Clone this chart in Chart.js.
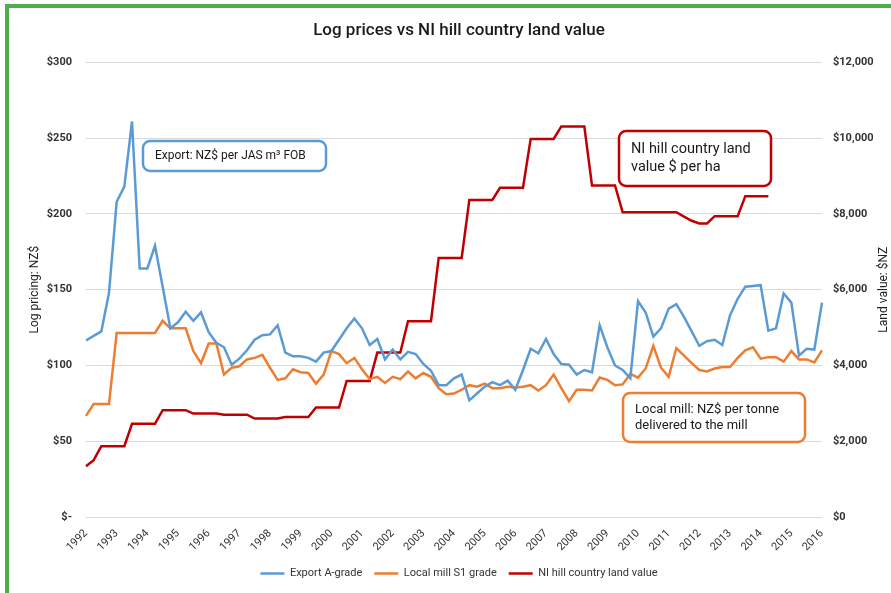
<!DOCTYPE html>
<html>
<head>
<meta charset="utf-8">
<title>Log prices vs NI hill country land value</title>
<script src="https://cdn.jsdelivr.net/npm/chart.js@4.4.1/dist/chart.umd.min.js"></script>
<style>
  body { margin: 0; background: #fff; }
  canvas { display: block; }
</style>
</head>
<body>
<canvas id="myChart" width="891" height="593"></canvas>
<script>
// quarterly series, 1992 Q1 .. 2016 Q1
const YEARS = [1992, 1993, 1994, 1995, 1996, 1997, 1998, 1999, 2000, 2001, 2002, 2003,
  2004, 2005, 2006, 2007, 2008, 2009, 2010, 2011, 2012, 2013, 2014, 2015, 2016];

const exportAGrade = [
  116.5, 119.5, 122.5, 148, 208, 218, 261, 164, 164, 179, 152, 124.5,
  128.5, 135.5, 129.5, 135, 122, 115, 112, 100.5, 104.5, 110, 117, 120,
  120.5, 126.5, 108.5, 106, 106, 105, 102.5, 108.5, 109.5, 117, 124.5, 131,
  124.5, 113.5, 117.5, 104, 110.5, 104, 109, 107.5, 101, 96.5, 87, 87,
  91.5, 94, 77, 81.5, 86, 89, 87, 90, 84, 97, 111, 108,
  117.5, 107.5, 101, 100.5, 94, 97, 95.5, 126.5, 112, 100, 97, 91.5,
  142.5, 135, 119, 124.5, 137.5, 140.5, 132, 122.5, 113, 116, 117, 113.5,
  133, 144, 152, 152.5, 153, 123, 124.5, 147.5, 141.5, 106.5, 111, 110.5,
  141.5,
];

const localMillS1 = [
  66.7, 74.5, 74.5, 74.5, 121.5, 121.5, 121.5, 121.5, 121.5, 121.5, 129.5, 124.5,
  124.5, 124.5, 109.5, 101.5, 114.5, 114.5, 94, 98.5, 99.5, 104, 105, 107,
  98.5, 90.5, 91.5, 97.5, 95.5, 95, 88, 94, 109.5, 107.5, 101.5, 105,
  97.5, 91, 92.5, 88.5, 92.5, 91, 96, 91.5, 95, 92.5, 85, 81,
  81.5, 84, 87, 86, 88, 85, 85, 86, 85.5, 86, 87, 83.5,
  87, 94, 85, 76.5, 84, 84, 83.5, 92, 90.5, 87, 87.5, 94.5,
  92, 98, 113, 98.5, 92.5, 111.5, 106.5, 101.5, 97, 96, 98, 99,
  99, 105, 110, 112, 104.5, 105.5, 105.5, 102.5, 109.5, 104, 104, 102,
  110,
];

const landValue = [
  1340, 1500, 1870, 1870, 1870, 1870, 2460, 2460, 2460, 2460, 2820, 2820,
  2820, 2820, 2730, 2730, 2730, 2730, 2700, 2700, 2700, 2700, 2600, 2600,
  2600, 2600, 2640, 2640, 2640, 2640, 2890, 2890, 2890, 2890, 3590, 3590,
  3590, 3590, 4340, 4340, 4340, 4340, 5170, 5170, 5170, 5170, 6840, 6840,
  6840, 6840, 8370, 8370, 8370, 8370, 8690, 8690, 8690, 8690, 9980, 9980,
  9980, 9980, 10310, 10310, 10310, 10310, 8750, 8750, 8750, 8750, 8045, 8045,
  8045, 8045, 8045, 8045, 8045, 8045, 7930, 7820, 7750, 7750, 7940, 7940,
  7940, 7940, 8470, 8470, 8470, 8470, null, null, null, null, null, null,
  null,
];

const LEFT_TICKS = [0, 50, 100, 150, 200, 250, 300];
const RIGHT_TICKS = [0, 2000, 4000, 6000, 8000, 10000, 12000];

const BLUE = '#5B9BD5';
const ORANGE = '#ED7D31';
const RED = '#C00000';
const FONT = 'Roboto, "Noto Sans", sans-serif';

const labels = [];
YEARS.forEach((year, i) => {
  const quarters = i === YEARS.length - 1 ? 1 : 4;
  for (let q = 1; q <= quarters; q++) labels.push(year + ' Q' + q);
});

const callouts = [
  { x: 143, y: 141, w: 183, h: 30, color: BLUE, size: 12, lines: ['Export: NZ$ per JAS m\u00b3 FOB'] },
  { x: 619, y: 131, w: 152, h: 55, color: RED, size: 14.5, lines: ['NI hill country land', 'value $ per ha'] },
  { x: 623, y: 393, w: 182, h: 49, color: ORANGE, size: 13, lines: ['Local mill: NZ$ per tonne', 'delivered to the mill'] },
];

const decorPlugin = {
  id: 'decor',
  beforeDraw(chart) {
    const ctx = chart.ctx;
    ctx.save();
    ctx.fillStyle = '#fff';
    ctx.fillRect(0, 0, chart.width, chart.height);
    ctx.fillStyle = '#4FAE4A';
    ctx.fillRect(5, 4, chart.width - 5, 4);
    ctx.fillRect(5, 4, 4, chart.height - 4);
    ctx.restore();
  },
  afterDraw(chart) {
    const ctx = chart.ctx;
    const area = chart.chartArea;
    const midY = (area.top + area.bottom) / 2;
    ctx.save();
    ctx.fillStyle = '#222';
    ctx.font = '12px ' + FONT;
    ctx.textAlign = 'center';
    ctx.textBaseline = 'middle';
    ctx.translate(35, midY);
    ctx.rotate(-Math.PI / 2);
    ctx.fillText('Log pricing: NZ$', 0, 0);
    ctx.restore();

    ctx.save();
    ctx.fillStyle = '#222';
    ctx.font = '12px ' + FONT;
    ctx.textAlign = 'center';
    ctx.textBaseline = 'middle';
    ctx.translate(884, midY);
    ctx.rotate(-Math.PI / 2);
    ctx.fillText('Land value: $NZ', 0, 0);
    ctx.restore();

    callouts.forEach(c => {
      ctx.save();
      ctx.beginPath();
      ctx.roundRect(c.x, c.y, c.w, c.h, 7);
      ctx.fillStyle = '#fff';
      ctx.fill();
      ctx.lineWidth = 2.5;
      ctx.strokeStyle = c.color;
      ctx.stroke();
      ctx.fillStyle = '#1a1a1a';
      ctx.font = c.size + 'px ' + FONT;
      ctx.textBaseline = 'middle';
      const lh = c.size * 1.25;
      const startY = c.y + c.h / 2 - (lh * (c.lines.length - 1)) / 2;
      c.lines.forEach((line, k) => ctx.fillText(line, c.x + 12, startY + k * lh));
      ctx.restore();
    });
  },
};

const context = document.getElementById('myChart').getContext('2d');

new Chart(context, {
  type: 'line',
  data: {
    labels,
    datasets: [
      {
        label: 'Export A-grade',
        data: exportAGrade,
        borderColor: BLUE,
        backgroundColor: BLUE,
        borderWidth: 2.5,
        pointRadius: 0,
        tension: 0,
        yAxisID: 'y',
      },
      {
        label: 'Local mill S1 grade',
        data: localMillS1,
        borderColor: ORANGE,
        backgroundColor: ORANGE,
        borderWidth: 2.5,
        pointRadius: 0,
        tension: 0,
        yAxisID: 'y',
      },
      {
        label: 'NI hill country land value',
        data: landValue,
        borderColor: RED,
        backgroundColor: RED,
        borderWidth: 2.5,
        pointRadius: 0,
        tension: 0,
        yAxisID: 'y1',
      },
    ],
  },
  options: {
    responsive: false,
    animation: false,
    layout: { padding: { top: 11, left: 27, right: 0, bottom: 4 } },
    plugins: {
      title: {
        display: true,
        text: 'Log prices vs NI hill country land value',
        color: '#1a1a1a',
        font: { family: FONT, size: 17, weight: '500' },
        padding: { top: 10, bottom: 21 },
      },
      legend: {
        position: 'bottom',
        labels: {
          usePointStyle: true,
          pointStyle: 'line',
          pointStyleWidth: 24,
          color: '#333',
          font: { family: FONT, size: 11 },
          padding: 12,
        },
      },
      tooltip: { enabled: false },
    },
    scales: {
      x: {
        grid: { display: false },
        border: { display: false },
        ticks: {
          autoSkip: false,
          minRotation: 45,
          maxRotation: 45,
          color: '#333',
          font: { family: FONT, size: 11 },
          padding: 2,
          callback(value, index) {
            return index % 4 === 0 ? YEARS[index / 4] : null;
          },
        },
        afterFit(scale) {
          scale.height = 39;
        },
      },
      y: {
        position: 'left',
        min: 0,
        max: 300,
        afterBuildTicks(scale) {
          scale.ticks = LEFT_TICKS.map(value => ({ value }));
        },
        grid: { color: '#D9D9D9', lineWidth: 1, drawTicks: false },
        border: { display: false },
        ticks: {
          color: '#333',
          padding: 14,
          font: { family: FONT, size: 11, weight: 'bold' },
          callback(value) {
            return value === 0 ? '$-' : '$' + value;
          },
        },
        afterFit(scale) {
          scale.width = 59;
        },
      },
      y1: {
        position: 'right',
        min: 0,
        max: 12000,
        afterBuildTicks(scale) {
          scale.ticks = RIGHT_TICKS.map(value => ({ value }));
        },
        grid: { display: false, drawTicks: false },
        border: { display: false },
        ticks: {
          color: '#333',
          padding: 11,
          font: { family: FONT, size: 11, weight: 'bold' },
          callback(value) {
            return '$' + value.toLocaleString('en-US');
          },
        },
        afterFit(scale) {
          scale.width = 69;
        },
      },
    },
  },
  plugins: [decorPlugin],
});
</script>
</body>
</html>
